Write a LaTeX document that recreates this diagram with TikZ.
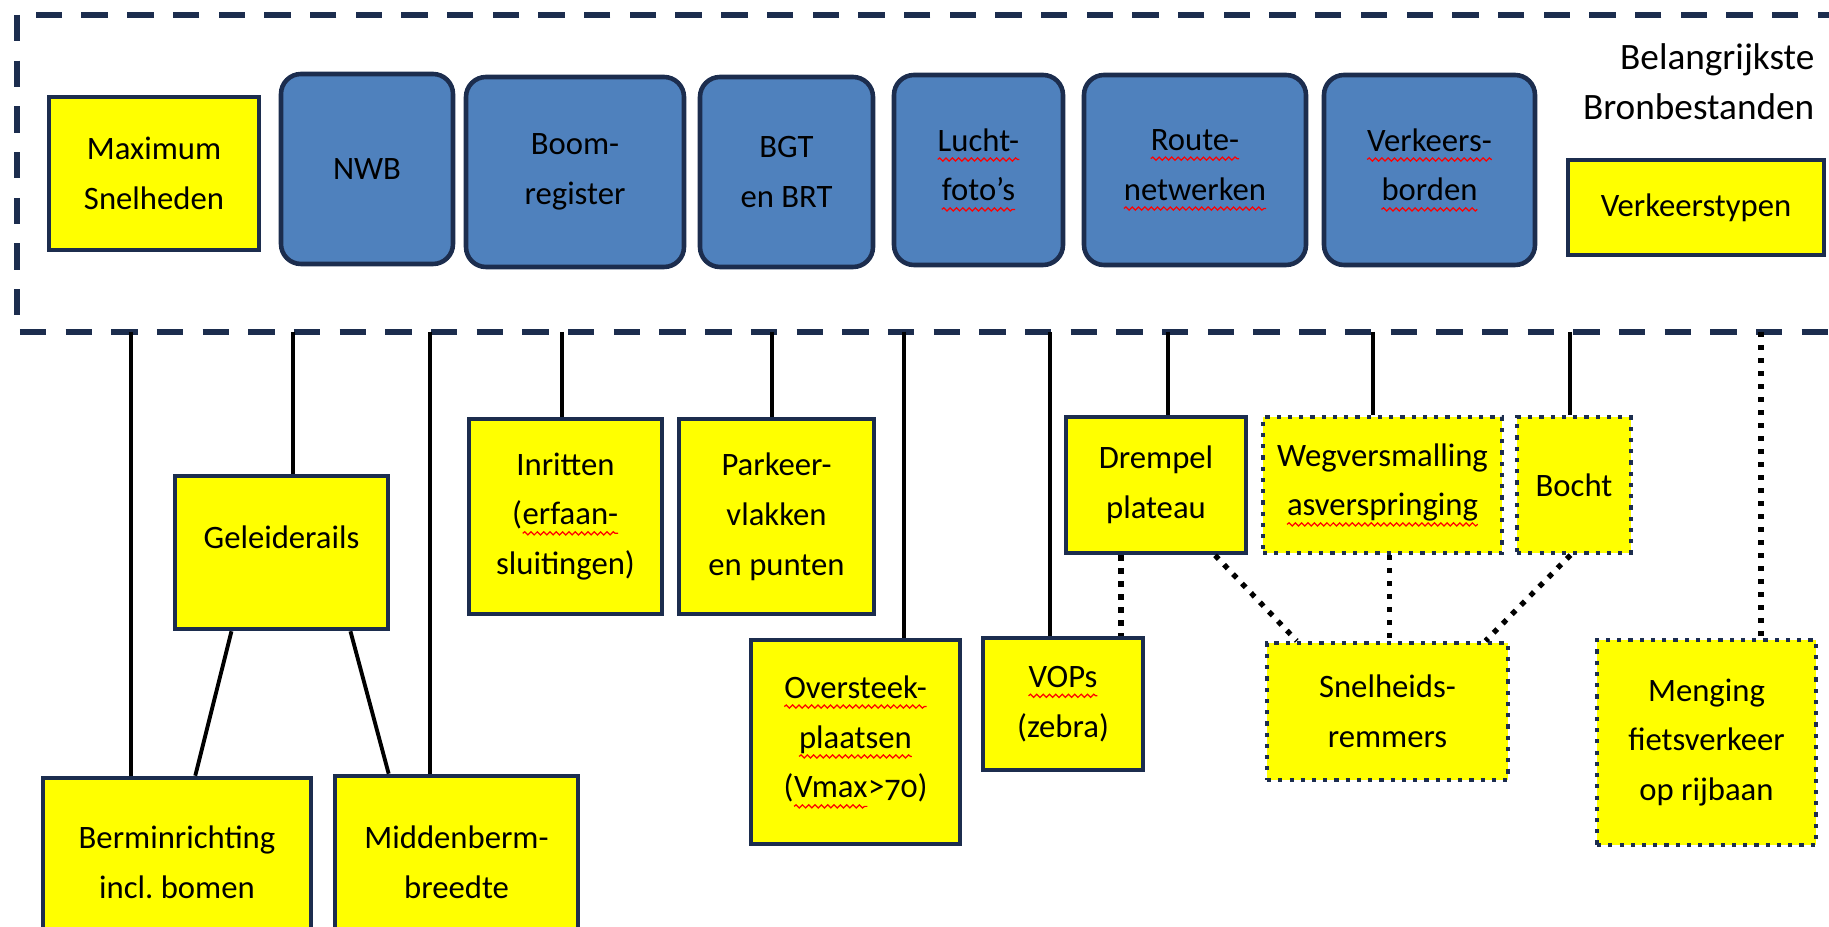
\documentclass[tikz,border=0pt]{standalone}
\usepackage{fontspec}
\setmainfont{Carlito}
\usetikzlibrary{positioning, calc, decorations.pathmorphing}
\definecolor{lineColor}{RGB}{28,45,78}
\definecolor{bronColor}{RGB}{79,129,189}
\definecolor{typeColor}{RGB}{255,255,0}
\newcommand\spellmark[1]{\tikz[baseline=(w.base)]{\node[inner sep=0pt, outer sep=0pt, draw=none, fill=none, rectangle, anchor=center, minimum width=0pt, minimum height=0pt] (w) {#1}; \draw[red, solid, sharp corners, line width=0.35pt, decorate, decoration={snake, amplitude=0.45pt, segment length=1.8pt}] ([yshift=-2.4pt]w.base west) -- ([yshift=-2.4pt]w.base east);}}
\tikzstyle{bronbox} = [rectangle, rounded corners=0.2cm, minimum height=1.9cm, text centered, align=center, draw=lineColor, line width=1.3pt, fill=bronColor, font=\fontsize{9.3}{14.2}\selectfont]
\tikzstyle{typebox} = [rectangle, text centered, align=center, draw=lineColor, line width=1.3pt, fill=typeColor, font=\fontsize{9.3}{14.2}\selectfont]
\tikzstyle{optbox} = [typebox, line width=1.2pt, dash pattern=on 1.2pt off 2pt]
\tikzstyle{solidline} = [line width=1.1pt]
\tikzstyle{dotline} = [line width=1.5pt, dash pattern=on 1.5pt off 2.2pt]
\tikzstyle{bronframe} = [draw=lineColor, line width=1.7pt, dash pattern=on 7.5pt off 5.5pt]

\begin{document}
\begin{tikzpicture}
\useasboundingbox (0,0) rectangle (18.29,-9.27);
\clip (0,0) rectangle (18.29,-9.27);
\draw[bronframe] (0.17,-0.15) rectangle (18.7,-3.32);

\node (maxsnel) [typebox, minimum width=2.1cm, minimum height=1.53cm] at (1.54,-1.735) {Maximum\\Snelheden};
\node (nwb) [bronbox, minimum width=1.72cm] at (3.67,-1.69) {NWB};
\node (boom) [bronbox, minimum width=2.18cm] at (5.75,-1.72) {Boom-\\register};
\node (bgt) [bronbox, minimum width=1.73cm] at (7.865,-1.72) {BGT\\en BRT};
\node (lucht) [bronbox, minimum width=1.69cm] at (9.785,-1.7) {\spellmark{Lucht-}\\\spellmark{foto’s}};
\node (route) [bronbox, minimum width=2.22cm] at (11.95,-1.7) {\spellmark{Route-}\\\spellmark{netwerken}};
\node (verkeers) [bronbox, minimum width=2.11cm] at (14.295,-1.7) {\spellmark{Verkeers-}\\\spellmark{borden}};
\node (titel) [anchor=east, align=right, inner sep=0pt, font=\fontsize{10.6}{14.2}\selectfont] at (18.15,-0.82) {Belangrijkste\\Bronbestanden};
\node (typen) [typebox, minimum width=2.56cm, minimum height=0.95cm] at (16.96,-2.075) {Verkeerstypen};

\node (gelei) [typebox, minimum width=2.13cm, minimum height=1.53cm] at (2.815,-5.525) {\raisebox{0.3cm}{Geleiderails}};
\node (bermin) [typebox, minimum width=2.68cm, minimum height=1.68cm] at (1.77,-8.62) {Berminrichting\\incl.\ bomen};
\node (midden) [typebox, minimum width=2.43cm, minimum height=1.72cm] at (4.565,-8.62) {Middenberm-\\breedte};
\node (inritten) [typebox, minimum width=1.93cm, minimum height=1.95cm] at (5.655,-5.165) {Inritten\\(\spellmark{erfaan-}\\sluitingen)};
\node (parkeer) [typebox, minimum width=1.95cm, minimum height=1.95cm] at (7.765,-5.165) {Parkeer-\\vlakken\\en punten};
\node (oversteek) [typebox, minimum width=2.09cm, minimum height=2.04cm] at (8.555,-7.42) {\spellmark{Oversteek-}\\\spellmark{plaatsen}\\(\spellmark{Vmax}>{\addfontfeature{Numbers=OldStyle}70})};
\node (vops) [typebox, minimum width=1.6cm, minimum height=1.32cm] at (10.63,-7.04) {\spellmark{VOPs}\\(zebra)};
\node (drempel) [typebox, minimum width=1.8cm, minimum height=1.36cm] at (11.56,-4.85) {Drempel\\plateau};
\node (wegvers) [optbox, minimum width=2.39cm, minimum height=1.36cm] at (13.825,-4.85) {Wegversmalling\\\spellmark{asverspringing}};
\node (bocht) [optbox, minimum width=1.14cm, minimum height=1.36cm] at (15.74,-4.85) {Bocht};
\node (snelheid) [optbox, minimum width=2.41cm, minimum height=1.37cm] at (13.875,-7.115) {Snelheids-\\remmers};
\node (menging) [optbox, minimum width=2.19cm, minimum height=2.05cm] at (17.065,-7.425) {Menging\\fietsverkeer\\op rijbaan};

\coordinate (tBermin) at (1.31,-3.32);
\coordinate (tGelei) at (2.93,-3.32);
\coordinate (tMidden) at (4.30,-3.32);
\coordinate (tInritten) at (5.62,-3.32);
\coordinate (tParkeer) at (7.72,-3.32);
\coordinate (tOversteek) at (9.04,-3.32);
\coordinate (tVops) at (10.50,-3.32);
\coordinate (tDrempel) at (11.68,-3.32);
\coordinate (tWegvers) at (13.73,-3.32);
\coordinate (tBocht) at (15.70,-3.32);
\coordinate (tMenging) at (17.61,-3.32);

\draw[solidline] (tBermin) -- (tBermin |- bermin.north);
\draw[solidline] (tGelei) -- (tGelei |- gelei.north);
\draw[solidline] (tMidden) -- (tMidden |- midden.north);
\draw[solidline] (tInritten) -- (tInritten |- inritten.north);
\draw[solidline] (tParkeer) -- (tParkeer |- parkeer.north);
\draw[solidline] (tOversteek) -- (tOversteek |- oversteek.north);
\draw[solidline] (tVops) -- (tVops |- vops.north);
\draw[solidline] (tDrempel) -- (tDrempel |- drempel.north);
\draw[solidline] (tWegvers) -- (tWegvers |- wegvers.north);
\draw[solidline] (tBocht) -- (tBocht |- bocht.north);
\draw[dotline] (tMenging) -- (tMenging |- menging.north);

\draw[solidline] ($(gelei.south west)!0.27!(gelei.south east)$) -- ($(bermin.north west)!0.567!(bermin.north east)$);
\draw[solidline] ($(gelei.south west)!0.817!(gelei.south east)$) -- ($(midden.north west)!0.226!(midden.north east)$);

\draw[dotline] ($(drempel.south west)!0.31!(drempel.south east)$) coordinate (dVops) -- (dVops |- vops.north);
\draw[dotline] ($(drempel.south west)!0.82!(drempel.south east)$) -- ($(snelheid.north west)!0.13!(snelheid.north east)$);
\draw[dotline] ($(wegvers.south west)!0.53!(wegvers.south east)$) coordinate (dWeg) -- (dWeg |- snelheid.north);
\draw[dotline] ($(bocht.south west)!0.47!(bocht.south east)$) -- ($(snelheid.north west)!0.9!(snelheid.north east)$);
\end{tikzpicture}
\end{document}
